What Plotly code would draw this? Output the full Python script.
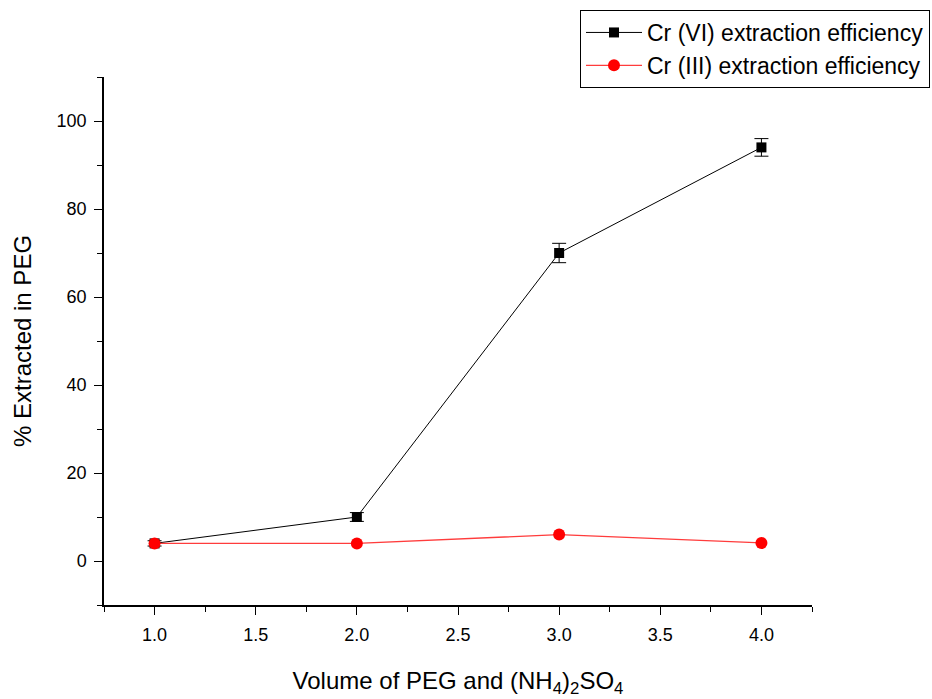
import plotly.graph_objects as go

volume = [1.0, 2.0, 3.0, 4.0]
cr6_eff = [4.0, 10.0, 70.0, 94.0]
cr6_err = [0.6, 1.0, 2.2, 2.0]
cr3_eff = [4.0, 4.0, 6.0, 4.1]

FONT = "Liberation Sans, Arial, sans-serif"
W, H = 932, 699

fig = go.Figure()
fig.add_trace(go.Scatter(
    x=volume, y=cr6_eff, mode="lines+markers",
    name="Cr (VI) extraction efficiency",
    line=dict(color="black", width=1),
    marker=dict(symbol="square", size=10, color="black"),
    error_y=dict(type="data", array=cr6_err, visible=True, color="black", thickness=1, width=7),
))
fig.add_trace(go.Scatter(
    x=volume, y=cr3_eff, mode="lines+markers",
    name="Cr (III) extraction efficiency",
    line=dict(color="rgb(255,60,60)", width=1.3),
    marker=dict(symbol="circle", size=12, color="red"),
))

axis_font = dict(family=FONT, size=18, color="black")
fig.update_layout(
    width=W, height=H,
    margin=dict(l=0, r=0, t=0, b=0),
    plot_bgcolor="white", paper_bgcolor="white",
    font=dict(family=FONT, color="black"),
    showlegend=True,
    legend=dict(
        x=930 / W, y=1 - 10 / H, xanchor="right", yanchor="top",
        bordercolor="black", borderwidth=1, bgcolor="white",
        font=dict(size=23, family=FONT, color="black"),
        tracegroupgap=0, itemwidth=56,
    ),
    xaxis=dict(
        domain=[104 / W, 812 / W],
        range=[0.75, 4.25], tickmode="array",
        tickvals=[1.0, 1.5, 2.0, 2.5, 3.0, 3.5, 4.0],
        ticktext=["1.0", "1.5", "2.0", "2.5", "3.0", "3.5", "4.0"],
        ticks="outside", ticklen=8, tickwidth=1, tickcolor="black",
        ticklabelstandoff=5,
        minor=dict(dtick=0.25, tick0=0.75, ticks="outside", ticklen=5, tickcolor="black", showgrid=False),
        showline=True, linecolor="black", linewidth=1.5,
        showgrid=False, zeroline=False, tickfont=axis_font, automargin=False,
        title=dict(text="Volume of PEG and (NH<sub>4</sub>)<sub>2</sub>SO<sub>4</sub>",
                   font=dict(size=24, family=FONT), standoff=28),
    ),
    yaxis=dict(
        domain=[(H - 605) / H, (H - 77) / H],
        range=[-10, 110], tickmode="array",
        tickvals=[0, 20, 40, 60, 80, 100],
        ticks="outside", ticklen=8, tickwidth=1, tickcolor="black",
        ticklabelstandoff=4,
        minor=dict(dtick=10, tick0=-10, ticks="outside", ticklen=5, tickcolor="black", showgrid=False),
        showline=True, linecolor="black", linewidth=1.5,
        showgrid=False, zeroline=False, tickfont=axis_font, automargin=False,
        title=dict(text="% Extracted in PEG",
                   font=dict(size=24, family=FONT), standoff=18),
    ),
)

fig.write_html(
    "out.html",
    config={"displayModeBar": False},
    post_script="document.body.style.margin='0';document.body.style.padding='0';",
)
